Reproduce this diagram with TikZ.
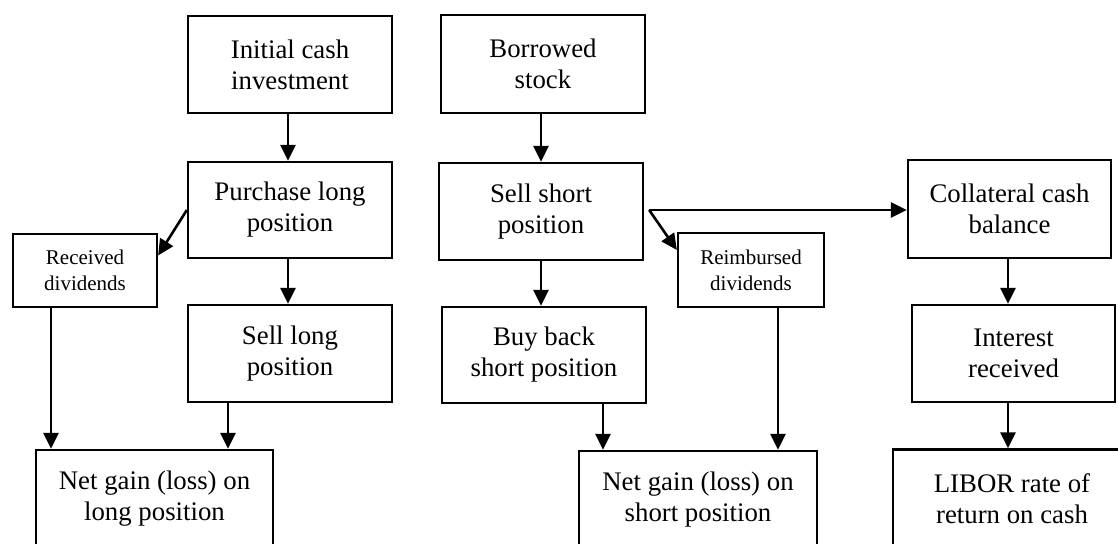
\documentclass[tikz,border=0pt]{standalone}
\usepackage{fontspec}
\setmainfont{Liberation Serif}
\usetikzlibrary{arrows.meta,calc}
\begin{document}
\begin{tikzpicture}[x=1pt,y=-1pt,
  box/.style={draw, line width=2.3pt, align=center, inner sep=0pt,
    font=\fontsize{26.8}{31}\selectfont},
  sbox/.style={box, font=\fontsize{21}{26}\selectfont},
  arr/.style={line width=2.6pt, -{Triangle[length=16pt,width=15pt]}}]
\useasboundingbox (0,0) rectangle (1118,543);

% left column
\node[box, minimum width=204pt, minimum height=97pt] (init) at (290,64.5) {Initial cash\\investment};
\node[box, minimum width=204pt, minimum height=96pt] (purch) at (290,210) {Purchase long\\position};
\node[sbox, minimum width=144pt, minimum height=73pt] (recv) at (85,270.5) {Received\\dividends};
\node[box, minimum width=204pt, minimum height=97pt] (selll) at (290,353.5) {Sell long\\position};
\node[box, minimum width=237pt, minimum height=98pt] (netl) at (154.5,499) {Net gain (loss) on\\long position};

% middle column
\node[box, minimum width=204pt, minimum height=98pt] (borrow) at (543,64) {Borrowed\\stock};
\node[box, minimum width=204pt, minimum height=97pt] (sshort) at (541,211.5) {Sell short\\position};
\node[box, minimum width=204pt, minimum height=96pt] (buyb) at (544,355) {Buy back\\short position};
\node[sbox, minimum width=146pt, minimum height=74pt] (reimb) at (751,270) {Reimbursed\\dividends};
\node[box, minimum width=238pt, minimum height=97pt] (nets) at (698,499.5) {Net gain (loss) on\\short position};

% right column
\node[box, minimum width=203pt, minimum height=98pt] (coll) at (1009.5,209) {Collateral cash\\balance};
\node[box, minimum width=203pt, minimum height=97pt] (inter) at (1013.5,353.5) {Interest\\received};
\node[box, minimum width=238pt, minimum height=98pt] (libor) at (1012,498.5) {LIBOR rate of\\return on cash};

% helper coordinates
\coordinate (c1) at ([xshift=-2pt]init.south);
\coordinate (c2) at ([xshift=-2pt]purch.south);
\coordinate (c3) at ([xshift=-34pt]recv.south);
\coordinate (c4) at ([xshift=-62pt]selll.south);
\coordinate (c5) at ([xshift=59pt]buyb.south);
\coordinate (c6) at ([xshift=27pt]reimb.south);
\coordinate (c7) at ([xshift=-1.5pt]coll.south);
\coordinate (c8) at ([xshift=-5.5pt]inter.south);
\coordinate (fork) at ([xshift=5pt,yshift=1.5pt]sshort.east);

% connectors
\draw[arr] (c1) -- (c1 |- purch.north);
\draw[arr] (c2) -- (c2 |- selll.north);
\draw[arr] (purch.west) -- ([yshift=15pt]recv.east);
\draw[arr] (c3) -- (c3 |- netl.north);
\draw[arr] (c4) -- (c4 |- netl.north);

\draw[arr] (sshort.north |- borrow.south) -- (sshort.north);
\draw[arr] (sshort.south) -- (sshort.south |- buyb.north);
\draw[arr] (fork) -- (fork -| coll.west);
\draw[arr] (fork) -- ([yshift=20pt]reimb.west);
\draw[arr] (c5) -- (c5 |- nets.north);
\draw[arr] (c6) -- (c6 |- nets.north);

\draw[arr] (c7) -- (c7 |- inter.north);
\draw[arr] (c8) -- (c8 |- libor.north);
\end{tikzpicture}
\end{document}
